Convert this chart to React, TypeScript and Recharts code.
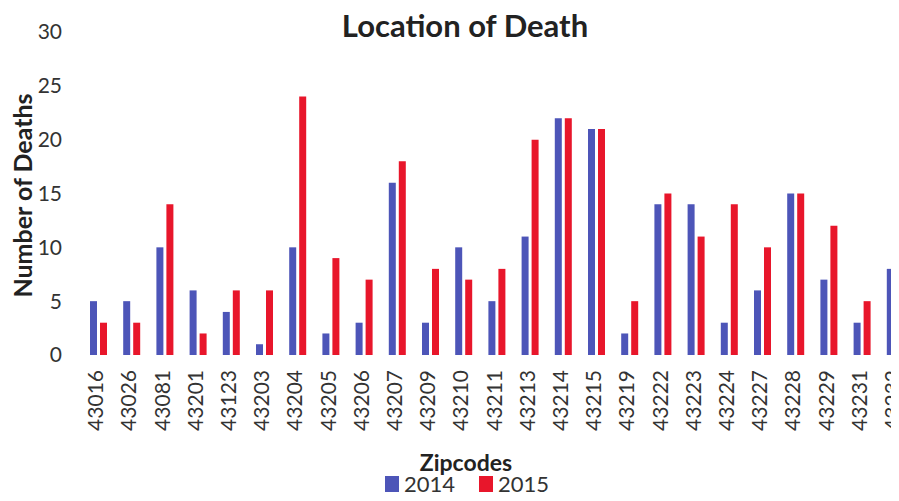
import React from "react";
import { BarChart, Bar, XAxis, YAxis, Legend } from "recharts";

const zipcodes = [
  "43016", "43026", "43081", "43201", "43123", "43203", "43204", "43205", "43206",
  "43207", "43209", "43210", "43211", "43213", "43214", "43215", "43219", "43222",
  "43223", "43224", "43227", "43228", "43229", "43231", "43232",
];
const deaths2014 = [5, 5, 10, 6, 4, 1, 10, 2, 3, 16, 3, 10, 5, 11, 22, 21, 2, 14, 14, 3, 6, 15, 7, 3, 8];
const deaths2015 = [3, 3, 14, 2, 6, 6, 24, 9, 7, 18, 8, 7, 8, 20, 22, 21, 5, 15, 11, 14, 10, 15, 12, 5, 7];
const yTicks = [0, 5, 10, 15, 20, 25, 30];

const BLUE = "#4d55b8";
const RED = "#e8162b";
const FONT = "Lato, 'Open Sans', sans-serif";

const data = zipcodes.map((zip, i) => ({ zip, y2014: deaths2014[i], y2015: deaths2015[i] }));

const ZipTick = ({ x, y, payload }: any) => (
  <text
    transform={`translate(${x - 3},${y + 7}) rotate(-90)`}
    textAnchor="end"
    dy="0.36em"
    fontSize={21}
    fill="#333"
    fontFamily={FONT}
  >
    {payload.value}
  </text>
);

const LegendContent = () => (
  <div style={{ display: "flex", justifyContent: "center", alignItems: "center", gap: 24, fontSize: 22, lineHeight: "22px", color: "#333", fontFamily: FONT }}>
    {[
      { name: "2014", color: BLUE },
      { name: "2015", color: RED },
    ].map((s) => (
      <div key={s.name} style={{ display: "flex", alignItems: "center", gap: 5 }}>
        <span style={{ display: "inline-block", width: 14, height: 16, background: s.color }} />
        <span>{s.name}</span>
      </div>
    ))}
  </div>
);

const App = () => {
  return (
    <div style={{ position: "relative", width: 899, height: 501, margin: -8, overflow: "hidden", background: "#fff", fontFamily: FONT }}>
      <div style={{ position: "absolute", left: 0, top: 7, width: 930, textAlign: "center", fontSize: 31, lineHeight: 1.2, fontWeight: 700, color: "#222" }}>
        Location of Death
      </div>
      <BarChart
        width={960}
        height={501}
        data={data}
        margin={{ top: 32, right: 48, left: 22, bottom: 0 }}
        barSize={7}
        barGap={3}
      >
        <XAxis
          dataKey="zip"
          axisLine={false}
          tickLine={false}
          interval={0}
          height={120}
          tick={<ZipTick />}
          label={{
            content: ({ viewBox }: any) => (
              <text
                x={viewBox.x + viewBox.width / 2 - 31}
                y={viewBox.y + viewBox.height - 4}
                textAnchor="middle"
                fontSize={23}
                fontWeight={700}
                fill="#222"
                fontFamily={FONT}
              >
                Zipcodes
              </text>
            ),
          }}
        />
        <YAxis
          domain={[0, 30]}
          ticks={yTicks}
          axisLine={false}
          tickLine={false}
          width={60}
          tickMargin={14}
          tick={{ fontSize: 21, fill: "#333", fontFamily: FONT }}
          label={{
            content: ({ viewBox }: any) => {
              const cx = 22;
              const cy = viewBox.y + viewBox.height / 2 + 2;
              return (
                <text
                  x={cx}
                  y={cy}
                  transform={`rotate(-90 ${cx} ${cy})`}
                  textAnchor="middle"
                  dominantBaseline="central"
                  fontSize={25}
                  fontWeight={700}
                  fill="#222"
                  fontFamily={FONT}
                >
                  Number of Deaths
                </text>
              );
            },
          }}
        />
        <Legend verticalAlign="bottom" height={26} wrapperStyle={{ bottom: 2 }} content={<LegendContent />} />
        <Bar dataKey="y2014" name="2014" fill={BLUE} isAnimationActive={false} />
        <Bar dataKey="y2015" name="2015" fill={RED} isAnimationActive={false} />
      </BarChart>
    </div>
  );
};

export default App;
